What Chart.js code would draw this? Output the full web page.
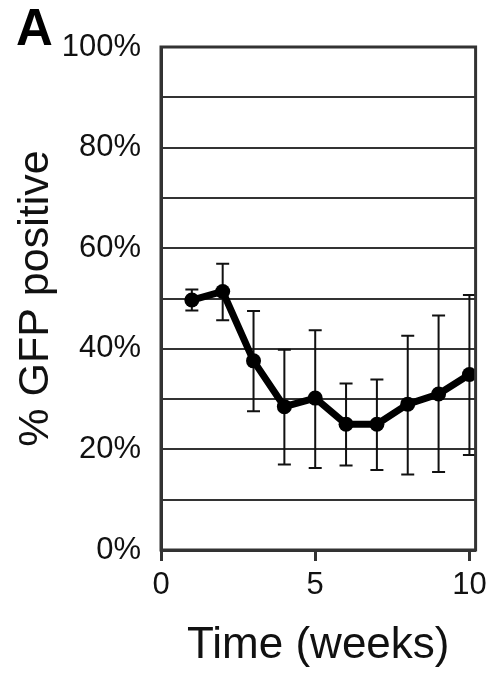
<!DOCTYPE html>
<html>
<head>
<meta charset="utf-8">
<script src="https://cdn.jsdelivr.net/npm/chart.js@4/dist/chart.umd.min.js"></script>
<style>
html,body{margin:0;padding:0;background:#fff;}
#wrap{width:493px;height:673px;}
</style>
</head>
<body>
<div id="wrap"><canvas id="c" width="493" height="673"></canvas></div>
<script>
const weeks = [1, 2, 3, 4, 5, 6, 7, 8, 9, 10];
const gfpMean = [49.7, 51.4, 37.6, 28.5, 30.2, 25.0, 25.0, 29.0, 31.0, 34.9];
const gfpUpper = [51.8, 56.9, 47.5, 39.8, 43.7, 33.1, 33.9, 42.6, 46.6, 50.7];
const gfpLower = [47.6, 45.7, 27.6, 17.0, 16.3, 16.8, 15.9, 15.0, 15.5, 18.9];
const xTickValues = [0, 5, 10];
const yLabelValues = [0, 20, 40, 60, 80, 100];

const FONT = "'Liberation Sans', Arial, sans-serif";
const DARK = '#333333';

const errorBars = {
  id: 'errorBars',
  beforeDatasetsDraw(chart) {
    const ctx = chart.ctx;
    const xs = chart.scales.x, ys = chart.scales.y;
    ctx.save();
    ctx.strokeStyle = '#111';
    ctx.lineWidth = 2;
    weeks.forEach((w, i) => {
      const px = xs.getPixelForValue(w);
      const pt = ys.getPixelForValue(gfpUpper[i]);
      const pb = ys.getPixelForValue(gfpLower[i]);
      ctx.beginPath();
      ctx.moveTo(px, pt); ctx.lineTo(px, pb);
      ctx.moveTo(px - 6.5, pt); ctx.lineTo(px + 6.5, pt);
      ctx.moveTo(px - 6.5, pb); ctx.lineTo(px + 6.5, pb);
      ctx.stroke();
    });
    ctx.restore();
  }
};

const frame = {
  id: 'frame',
  afterDraw(chart) {
    const a = chart.chartArea, ctx = chart.ctx;
    ctx.save();
    ctx.strokeStyle = DARK;
    ctx.lineWidth = 3;
    ctx.strokeRect(a.left, a.top, a.right - a.left, a.bottom - a.top);
    ctx.fillStyle = '#000';
    ctx.font = "bold 51px " + FONT;
    ctx.textBaseline = 'alphabetic';
    ctx.textAlign = 'left';
    ctx.fillText('A', 16, 45);
    ctx.restore();
  }
};

new Chart(document.getElementById('c'), {
  type: 'line',
  data: {
    datasets: [{
      data: weeks.map((w, i) => ({x: w, y: gfpMean[i]})),
      borderColor: '#000',
      backgroundColor: '#000',
      borderWidth: 7,
      pointRadius: 7.5,
      pointHoverRadius: 7.5,
      pointBackgroundColor: '#000',
      pointBorderWidth: 0,
      tension: 0,
      clip: false
    }]
  },
  options: {
    responsive: false,
    animation: false,
    events: [],
    layout: {padding: {left: 0, right: 17, top: 47, bottom: 0}},
    plugins: {legend: {display: false}, tooltip: {enabled: false}},
    scales: {
      x: {
        type: 'linear',
        min: 0,
        max: 10.2,
        afterFit(s) { s.height = 123; },
        afterBuildTicks(s) { s.ticks = xTickValues.map(v => ({value: v})); },
        ticks: {
          includeBounds: false,
          autoSkip: false,
          maxRotation: 0,
          padding: 6,
          color: '#111',
          font: {family: FONT, size: 31}
        },
        grid: {
          drawOnChartArea: false,
          drawTicks: true,
          tickLength: 11,
          tickWidth: 3,
          tickColor: DARK
        },
        border: {display: true, color: DARK, width: 3},
        title: {
          display: true,
          text: 'Time (weeks)',
          color: '#111',
          font: {family: FONT, size: 44},
          padding: {top: 4, bottom: 1}
        }
      },
      y: {
        type: 'linear',
        min: 0,
        max: 100,
        afterFit(s) { s.width = 161; },
        ticks: {
          stepSize: 10,
          autoSkip: false,
          padding: 20,
          color: '#111',
          font: {family: FONT, size: 31},
          callback: v => (yLabelValues.includes(v) ? v + '%' : '')
        },
        grid: {
          drawTicks: false,
          color: '#333333',
          lineWidth: 2
        },
        border: {display: true, color: DARK, width: 3},
        title: {
          display: true,
          text: '% GFP positive',
          color: '#111',
          font: {family: FONT, size: 43},
          padding: {top: 10, bottom: 0}
        }
      }
    }
  },
  plugins: [errorBars, frame]
});
</script>
</body>
</html>
